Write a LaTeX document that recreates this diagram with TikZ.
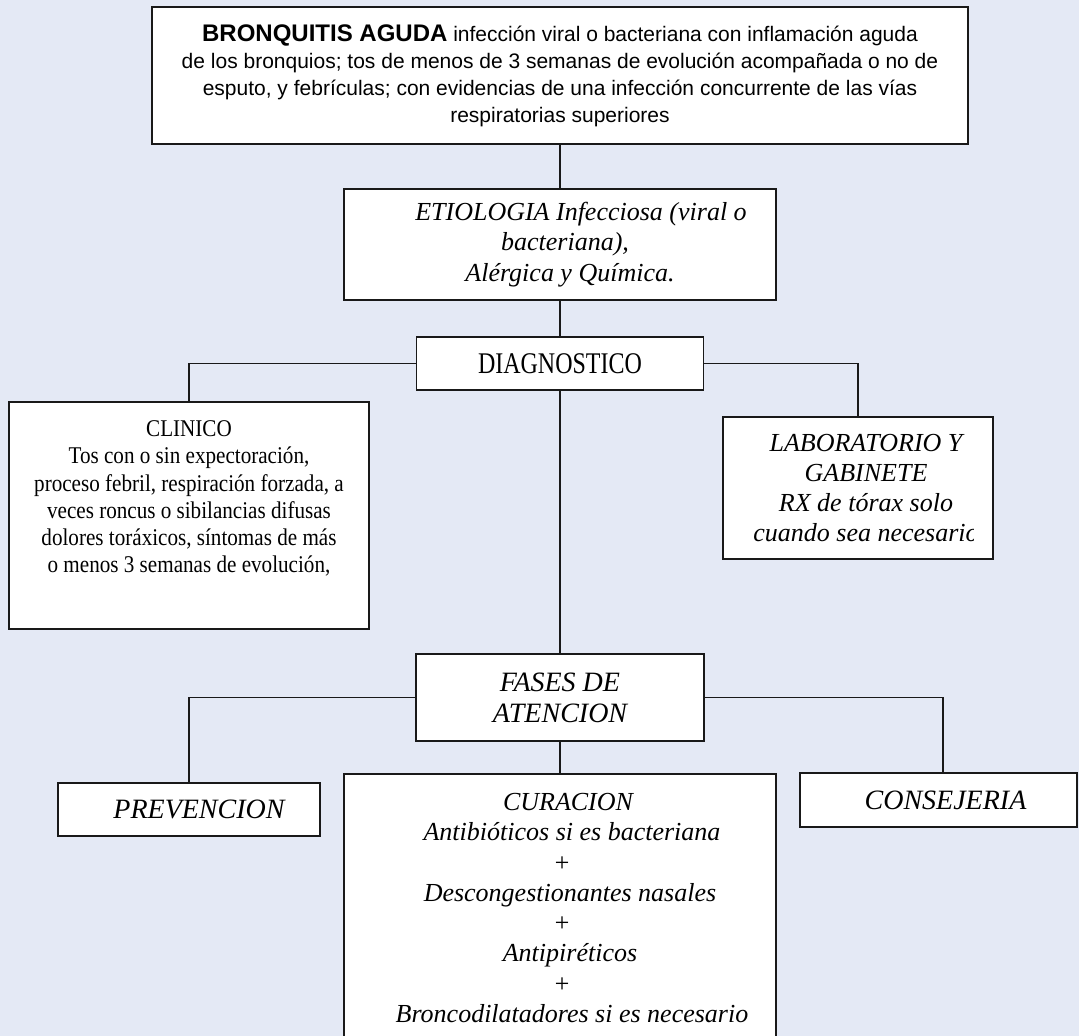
\documentclass[tikz,border=0pt]{standalone}
\usepackage{fontspec}
\setmainfont{Liberation Serif}
\newfontfamily\headfont{Liberation Sans}
\newfontfamily\narrowfont[FakeStretch=0.88]{Liberation Serif}
\newfontfamily\diagfont[FakeStretch=0.8]{Liberation Serif}
\definecolor{paleblue}{RGB}{228,233,245}
\definecolor{boxline}{RGB}{25,25,25}

\begin{document}
\begin{tikzpicture}[x=1pt, y=-1pt,
        box/.style={rectangle, draw=boxline, fill=white, line width=1.4pt, inner sep=0pt, align=center},
        link/.style={boxline, line width=1.4pt},
        sanstext/.style={font=\headfont\fontsize{21}{27}\selectfont},
        ittext/.style={font=\fontsize{26}{30.3}\selectfont\itshape},
        bigit/.style={font=\fontsize{28}{31}\selectfont\itshape},
        condtext/.style={font=\narrowfont\fontsize{24}{27.2}\selectfont}
    ]
    \useasboundingbox (0,0) rectangle (1079,1036);
    \fill[paleblue] (0,0) rectangle (1079,1036);
    \clip (0,0) rectangle (1079,1036);
    % definicion
    \node[box, sanstext, minimum width=816pt, minimum height=137pt] (def) at (560,75.5)
        {{\bfseries\fontsize{24}{27}\selectfont BRONQUITIS AGUDA} infección viral o bacteriana con inflamación aguda\\
         de los bronquios; tos de menos de 3 semanas de evolución acompañada o no de\\
         esputo, y febrículas; con evidencias de una infección concurrente de las vías\\
         respiratorias superiores};
    \node[box, ittext, minimum width=432pt, minimum height=111pt] (etio) at (560,244.5)
        {\hspace*{42pt}ETIOLOGIA Infecciosa (viral o\\ \hspace*{10pt}bacteriana),\\ \hspace*{20pt}Alérgica y Química.};
    \node[box, font=\diagfont\fontsize{30}{32}\selectfont, minimum width=287pt, minimum height=53pt] (diag) at (560,363.5) {DIAGNOSTICO};
    % ramas del diagnostico
    \node[box, condtext, minimum width=360pt, minimum height=227pt] (clin) at (189,515.5)
        {CLINICO\\ Tos con o sin expectoración,\\ proceso febril, respiración forzada, a\\
         veces roncus o sibilancias difusas\\ dolores toráxicos, síntomas de más\\
         o menos 3 semanas de evolución,\\[2pt]\strut};
    \node[box, minimum width=270pt, minimum height=142pt] (lab) at (858,488) {};
    \begin{scope}
        \clip (lab.south west) rectangle (973,417);
        \node[ittext, align=center] (labtext) at (866,488)
            {LABORATORIO Y\\ GABINETE\\ RX de tórax solo\\ cuando sea necesario};
    \end{scope}
    \node[box, bigit, minimum width=288pt, minimum height=87pt] (fases) at (560,697.5) {FASES DE\\ ATENCION};
    % fases de atencion
    \node[box, bigit, minimum width=262pt, minimum height=53pt] (prev) at (189,809.5) {\hspace*{20pt}PREVENCION};
    \node[box, ittext, minimum width=432pt, minimum height=268pt] (cur) at (560,908)
        {\hspace*{16pt}CURACION\\ \hspace*{24pt}Antibióticos si es bacteriana\\ \hspace*{4pt}+\\
         \hspace*{20pt}Descongestionantes nasales\\ \hspace*{4pt}+\\
         \hspace*{20pt}Antipiréticos\\ \hspace*{4pt}+\\ \hspace*{24pt}Broncodilatadores si es necesario};
    \node[box, bigit, minimum width=277pt, minimum height=54pt] (cons) at (938.5,800) {\hspace*{14pt}CONSEJERIA};
    \draw[link] (def.south) -- (etio.north);
    \draw[link] (etio.south) -- (diag.north);
    \draw[link] (diag.west) -| (clin.north);
    \draw[link] (diag.east) -| (lab.north);
    \draw[link] (diag.south) -- (fases.north);
    \draw[link] (fases.west) -| (prev.north);
    \draw[link] (fases.east) -| ([xshift=4.5pt]cons.north);
    \draw[link] (fases.south) -- (cur.north);
    \end{tikzpicture}
\end{document}
